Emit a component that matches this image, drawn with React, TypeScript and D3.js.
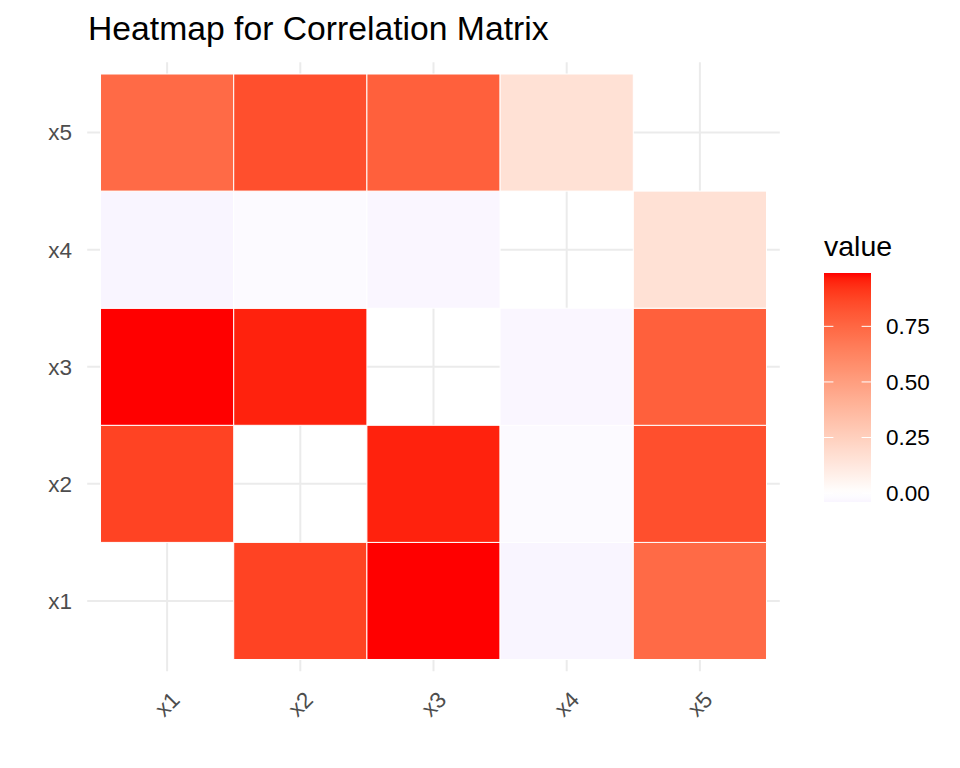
import React from "react";
import * as d3 from "d3";

const variables = ["x1", "x2", "x3", "x4", "x5"];
// correlation rows (null = diagonal, not drawn)
const rowX1 = [null, 0.88, 0.99, -0.04, 0.74];
const rowX2 = [0.88, null, 0.955, -0.02, 0.84];
const rowX3 = [0.99, 0.955, null, -0.035, 0.78];
const rowX4 = [-0.04, -0.02, -0.035, null, 0.16];
const rowX5 = [0.74, 0.84, 0.78, 0.16, null];
const legendTicks = [0, 0.25, 0.5, 0.75];
const legendTickLabels = ["0.00", "0.25", "0.50", "0.75"];
const titleText = "Heatmap for Correlation Matrix";
const legendTitle = "value";

const W = 960;
const H = 768;
const FONT = "'Liberation Sans', Arial, Helvetica, sans-serif";

export default function App() {
  const rows = [rowX1, rowX2, rowX3, rowX4, rowX5];
  const cells: { x: string; y: string; v: number }[] = [];
  rows.forEach((r, i) =>
    r.forEach((v, j) => {
      if (v !== null) cells.push({ y: variables[i], x: variables[j], v: v as number });
    })
  );
  const vals = cells.map((c) => c.v);
  const vmin = d3.min(vals) as number;
  const vmax = d3.max(vals) as number;
  const M = Math.max(Math.abs(vmin), Math.abs(vmax));
  const toRed = d3.interpolateLab("#ffffff", "#ff0000");
  const toBlue = d3.interpolateLab("#ffffff", "#0000ff");
  const color = (v: number) => (v >= 0 ? toRed(v / M) : toBlue(-v / M));

  // panel
  const pL = 87.2, pR = 779.8, pT = 62.3, pB = 671.2;
  const x = d3.scalePoint<string>().domain(variables).range([pL, pR]).padding(0.6);
  const y = d3.scalePoint<string>().domain(variables).range([pB, pT]).padding(0.6);
  const bw = x.step();
  const bh = y.step();

  // legend
  const lgX = 824, lgW = 47, lgT = 273, lgB = 502;
  const ly = d3.scaleLinear().domain([vmin, vmax]).range([lgB, lgT]);
  const stops = d3.range(0, 41).map((i) => {
    const v = vmin + ((vmax - vmin) * i) / 40;
    return { off: (i / 40) * 100, c: color(v) };
  });

  return (
    <svg width={W} height={H} style={{ position: "absolute", left: 0, top: 0, background: "#fff" }} fontFamily={FONT}>
      <defs>
        <linearGradient id="lg" x1="0" y1="1" x2="0" y2="0">
          {stops.map((s, i) => (
            <stop key={i} offset={`${s.off}%`} stopColor={s.c} />
          ))}
        </linearGradient>
      </defs>
      <rect width={W} height={H} fill="#fff" />
      {/* grid */}
      {variables.map((v) => (
        <line key={"gx" + v} x1={x(v)} x2={x(v)} y1={pT} y2={pB} stroke="#EBEBEB" strokeWidth={2} />
      ))}
      {variables.map((v) => (
        <line key={"gy" + v} y1={y(v)} y2={y(v)} x1={pL} x2={pR} stroke="#EBEBEB" strokeWidth={2} />
      ))}
      {/* tiles */}
      {cells.map((c, i) => (
        <rect
          key={i}
          x={(x(c.x) as number) - bw / 2}
          y={(y(c.y) as number) - bh / 2}
          width={bw}
          height={bh}
          fill={color(c.v)}
          stroke="#ffffff"
          strokeWidth={1}
        />
      ))}
      {/* y axis labels */}
      {variables.map((v) => (
        <text key={"yl" + v} x={72} y={y(v)} dy="0.35em" textAnchor="end" fontSize={22.5} fill="#4D4D4D">
          {v}
        </text>
      ))}
      {/* x axis labels */}
      {variables.map((v) => (
        <text
          key={"xl" + v}
          transform={`translate(${x(v)},${704}) rotate(-45)`}
          textAnchor="middle"
          dy="0.35em"
          fontSize={22.5}
          fill="#4D4D4D"
        >
          {v}
        </text>
      ))}
      {/* title */}
      <text x={88} y={40} fontSize={33.7} fill="#000">
        {titleText}
      </text>
      {/* legend */}
      <text x={lgX} y={256} fontSize={28.5} fill="#000">
        {legendTitle}
      </text>
      <rect x={lgX} y={lgT} width={lgW} height={lgB - lgT} fill="url(#lg)" />
      {legendTicks.map((t, i) => (
        <g key={"lt" + i}>
          <line x1={lgX} x2={lgX + lgW / 5} y1={ly(t)} y2={ly(t)} stroke="#fff" strokeWidth={1} />
          <line x1={lgX + lgW - lgW / 5} x2={lgX + lgW} y1={ly(t)} y2={ly(t)} stroke="#fff" strokeWidth={1} />
          <text x={886} y={ly(t)} dy="0.35em" fontSize={22.5} fill="#000">
            {legendTickLabels[i]}
          </text>
        </g>
      ))}
    </svg>
  );
}
